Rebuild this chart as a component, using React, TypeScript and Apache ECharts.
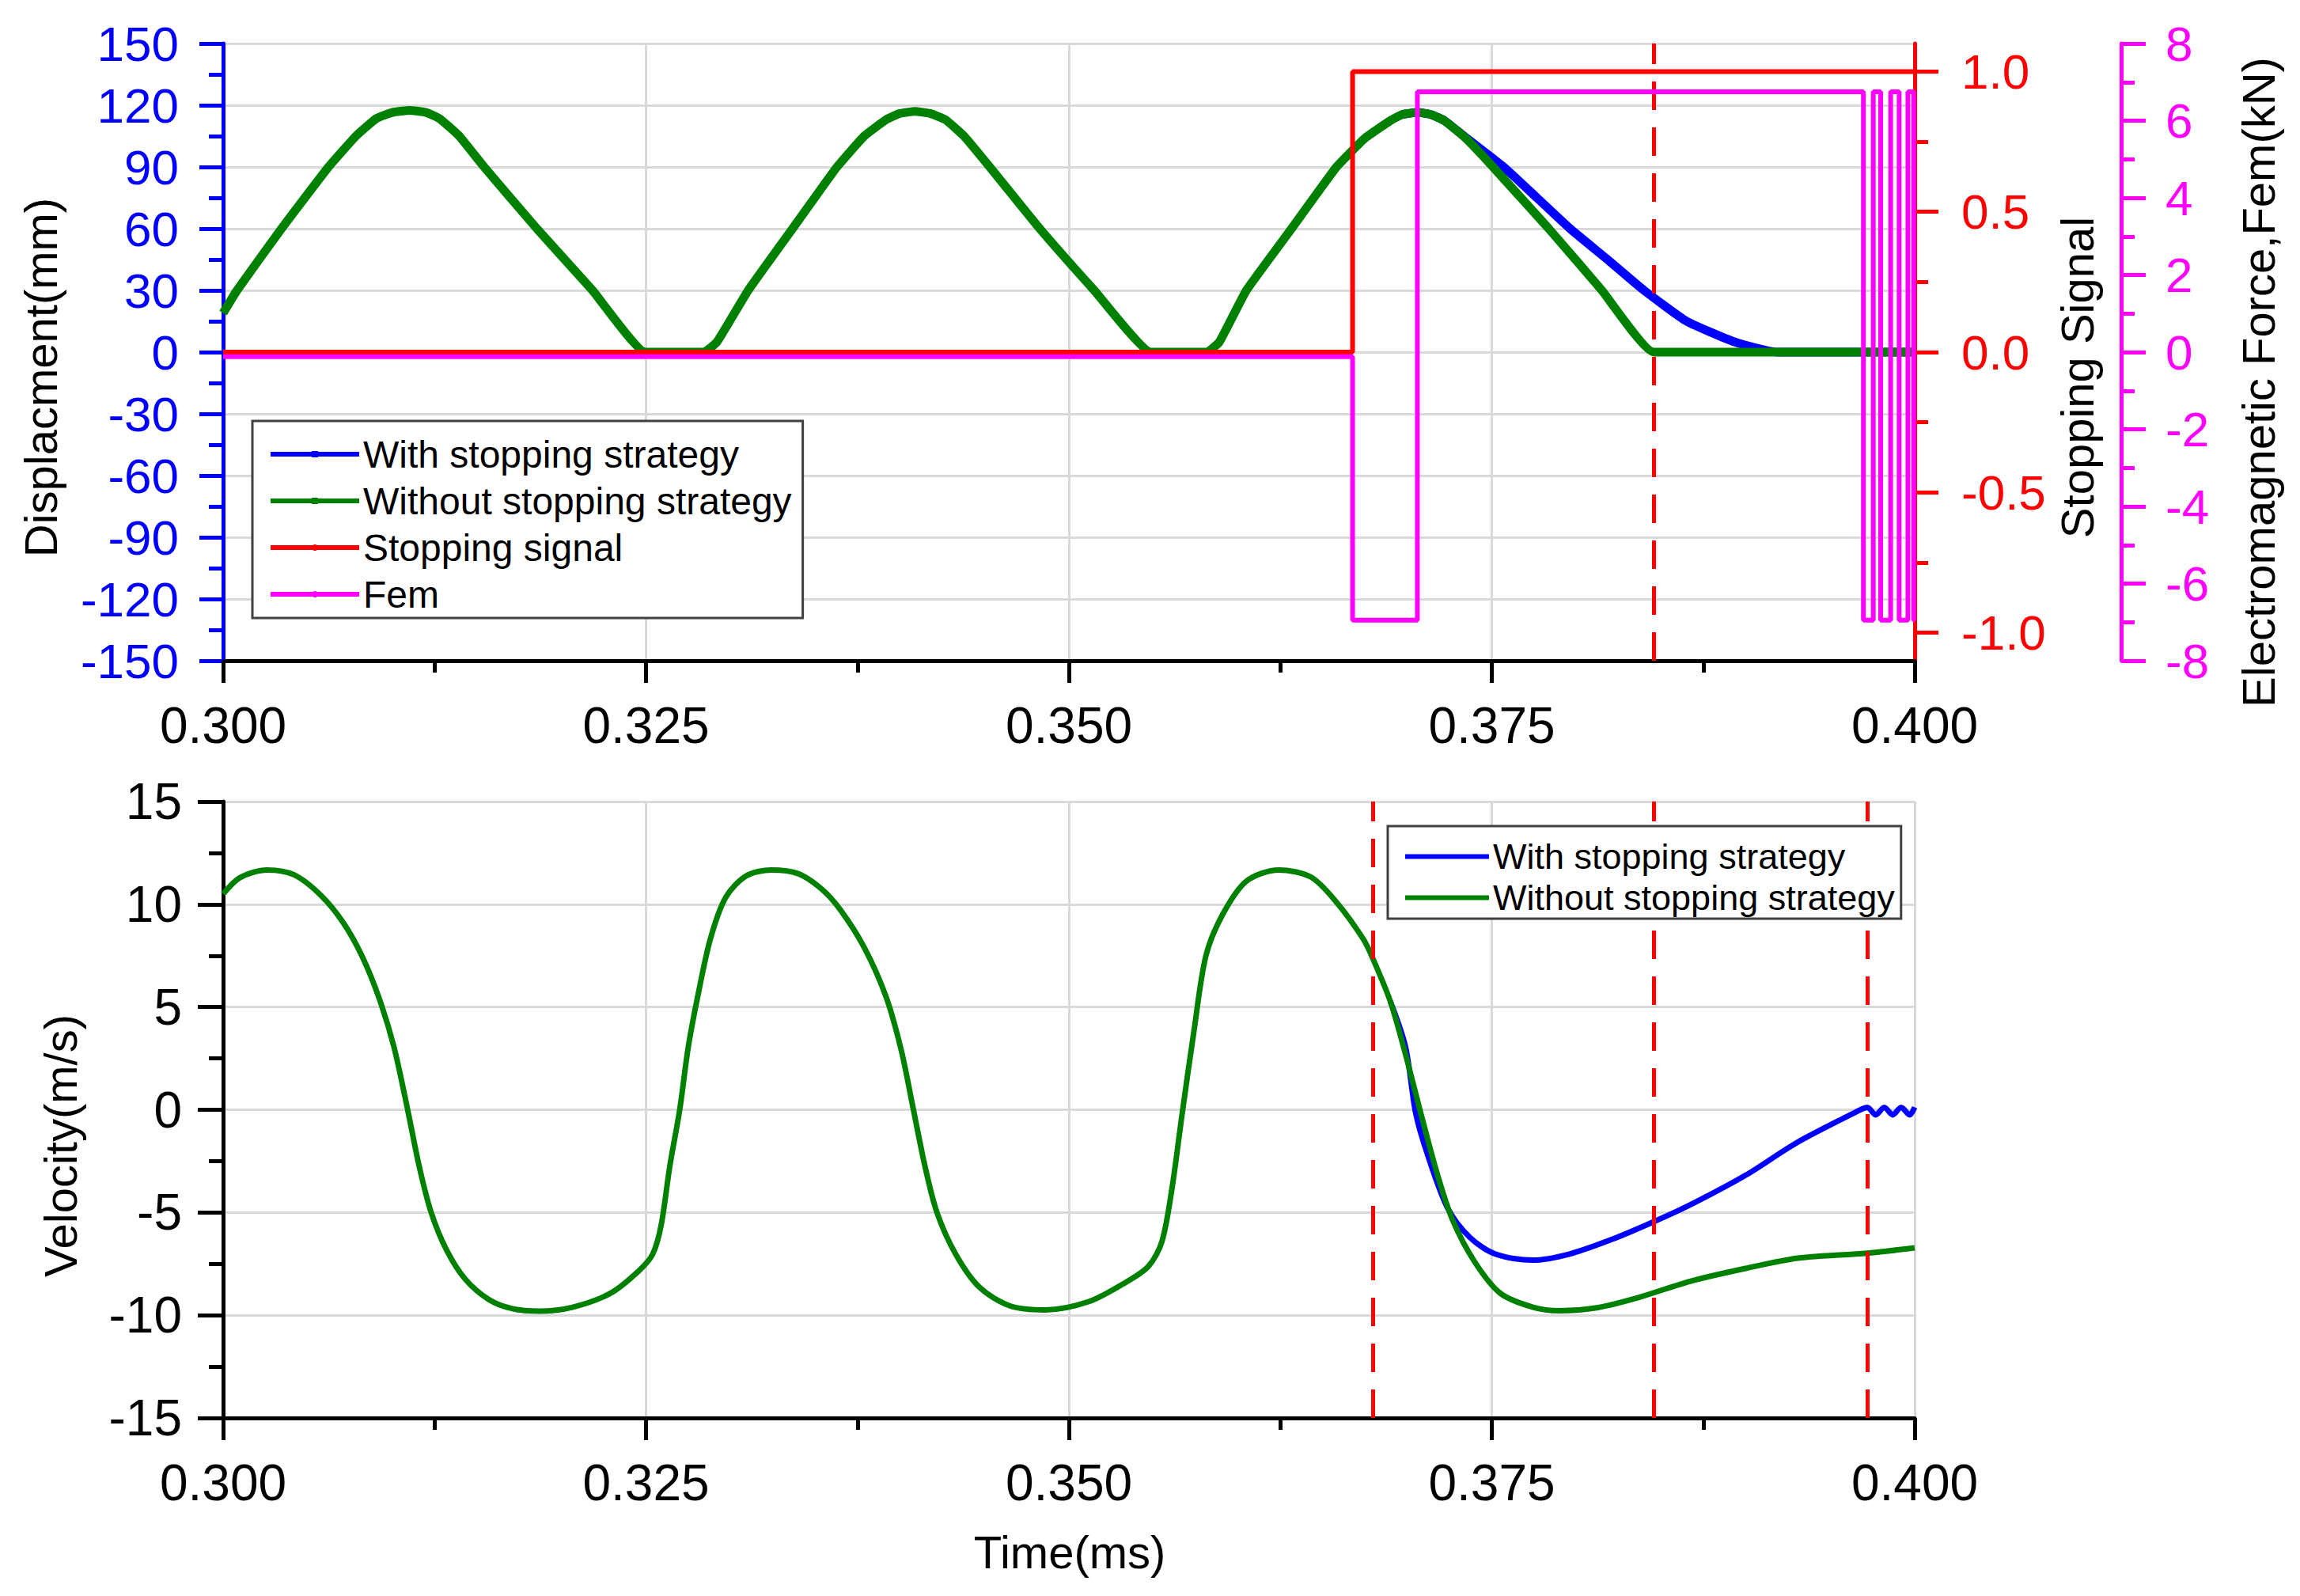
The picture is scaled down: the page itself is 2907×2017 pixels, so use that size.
import React, { useEffect, useRef } from "react";
import * as echarts from "echarts";

// ---------- data ----------
// time in ms, displacement in mm
const dispWithoutStrategy: [number, number][] = [
  [0.3, 19], [0.30082, 30], [0.30345, 60], [0.30623, 90], [0.30785, 105], [0.30905, 113.5],
  [0.31, 116.5], [0.311, 117.5], [0.312, 116.5], [0.3128, 113.5], [0.31396, 105], [0.31543, 90],
  [0.31855, 60], [0.32184, 30], [0.32496, 0], [0.32842, 0], [0.3292, 5], [0.33104, 30], [0.33366, 60],
  [0.33629, 90], [0.3379, 105], [0.3392, 113], [0.34, 116], [0.3409, 117], [0.3418, 116],
  [0.3427, 113], [0.3438, 105], [0.34532, 90], [0.34828, 60], [0.3515, 30], [0.35485, 0],
  [0.35816, 0], [0.3589, 5], [0.36049, 30], [0.36316, 60], [0.36582, 90], [0.3675, 104], [0.369, 112.5],
  [0.3697, 115.5], [0.3706, 116.5], [0.3714, 115.5], [0.3722, 112.5], [0.37345, 104],
  [0.37507, 90], [0.37837, 60], [0.38151, 30], [0.38457, 0], [0.4, 0],
];
const dispWithStrategy: [number, number][] = [
  [0.3697, 115.5], [0.3706, 116.5], [0.3714, 115.5], [0.3722, 112.5], [0.37336, 105],
  [0.3757, 90], [0.37767, 75], [0.37963, 60], [0.38184, 45], [0.384, 30], [0.38652, 15],
  [0.38934, 5], [0.39185, 0], [0.4, 0],
];
const stoppingSignal: [number, number][] = [
  [0.3, 0], [0.36677, 0], [0.36677, 1], [0.4, 1],
];
// electromagnetic force in kN
const femForce: [number, number][] = [
  [0.3, -0.12], [0.36677, -0.12], [0.36677, -6.95], [0.3706, -6.95], [0.3706, 6.75],
  [0.39697, 6.75], [0.39697, -6.95], [0.39755, -6.95], [0.39755, 6.75], [0.39799, 6.75],
  [0.39799, -6.95], [0.39858, -6.95], [0.39858, 6.75], [0.39908, 6.75], [0.39908, -6.95],
  [0.3996, -6.95], [0.3996, 6.75], [0.39994, 6.75], [0.39994, -6.95], [0.4, -6.95],
];
// velocity in m/s
const velWithoutStrategy: [number, number][] = [
  [0.3, 10.5], [0.301, 11.3], [0.3026, 11.67], [0.3042, 11.43], [0.3058, 10.42], [0.3071, 9.11],
  [0.3082, 7.5], [0.3092, 5.48], [0.3101, 3.06], [0.3109, 0.04], [0.3116, -2.78], [0.3123, -5.0],
  [0.3132, -6.81], [0.3143, -8.23], [0.3157, -9.23], [0.3171, -9.68], [0.3187, -9.8],
  [0.3207, -9.6], [0.3229, -8.93], [0.3246, -7.82], [0.3254, -7.02], [0.3259, -5.6],
  [0.3264, -2.78], [0.327, 0.04], [0.3275, 3.06], [0.3281, 5.69], [0.3288, 8.3], [0.3297, 10.32],
  [0.3309, 11.37], [0.3324, 11.67], [0.334, 11.49], [0.3354, 10.73], [0.3365, 9.72], [0.3379, 7.9],
  [0.3392, 5.48], [0.3401, 2.86], [0.3408, 0.04], [0.3415, -2.78], [0.3422, -5.0], [0.3433, -7.02],
  [0.3447, -8.63], [0.3465, -9.54], [0.3486, -9.74], [0.3512, -9.33], [0.3533, -8.43],
  [0.3547, -7.62], [0.3555, -6.41], [0.3561, -3.79], [0.3567, -0.16], [0.3574, 3.87],
  [0.3581, 7.5], [0.3591, 9.52], [0.3605, 11.13], [0.3624, 11.67], [0.3643, 11.33],
  [0.3658, 10.12], [0.3674, 8.31], [0.368, 7.3], [0.369, 5.28], [0.3699, 2.7], [0.3708, -0.16],
  [0.3718, -3.19], [0.3727, -5.4], [0.374, -7.42], [0.3755, -8.93], [0.3774, -9.6],
  [0.379, -9.78], [0.3812, -9.64], [0.3837, -9.13], [0.3868, -8.33], [0.39, -7.72],
  [0.3931, -7.22], [0.3972, -6.98], [0.4, -6.72],
];
const velWithStrategy: [number, number][] = [
  [0.369, 5.28], [0.3699, 3.06], [0.3705, -0.16], [0.3712, -2.18], [0.3724, -4.8],
  [0.3737, -6.21], [0.3752, -7.02], [0.3774, -7.32], [0.3796, -7.02], [0.3821, -6.31],
  [0.3846, -5.44], [0.3868, -4.6], [0.39, -3.19], [0.3931, -1.57], [0.3969, 0.04],
  [0.3972, 0.12], [0.3977, -0.25], [0.3982, 0.12], [0.3987, -0.25], [0.3992, 0.12],
  [0.3997, -0.25], [0.4, 0.12],
];
const dispMarkerTimes = [0.38457];
const velMarkerTimes = [0.36796, 0.38457, 0.3972];
const stopSignalTicks = [-1, -0.5, 0, 0.5, 1];
const stopSignalMinorTicks = [-0.75, -0.25, 0.25, 0.75];

const NAME_WITH = "With stopping strategy";
const NAME_WITHOUT = "Without stopping strategy";
const NAME_STOP = "Stopping signal";
const NAME_FEM = "Fem";

// ---------- styling ----------
const FONT = "'Liberation Sans', Arial, Helvetica, sans-serif";
const GRID_COLOR = "#d9d9d9";
const BLUE = "#0000ff";
const GREEN = "#008000";
const RED = "#ff0000";
const MAGENTA = "#ff00ff";

export default function App() {
  const ref = useRef<HTMLDivElement>(null);

  useEffect(() => {
    const chart = echarts.init(ref.current as HTMLDivElement, null, { renderer: "svg" });

    const xAxisFor = (gridIndex: number) => ({
      type: "value",
      gridIndex,
      min: 0.3,
      max: 0.4,
      interval: 0.025,
      axisLine: { show: true, onZero: false, lineStyle: { color: "#000", width: 5 } },
      axisTick: { show: true, inside: false, length: 28, lineStyle: { color: "#000", width: 5 } },
      minorTick: { show: true, splitNumber: 2, length: 15, lineStyle: { color: "#000", width: 5 } },
      axisLabel: {
        margin: 50,
        color: "#000",
        fontSize: 64,
        fontFamily: FONT,
        formatter: (v: number) => v.toFixed(3),
      },
      splitLine: { show: true, lineStyle: { color: GRID_COLOR, width: 3 } },
    });

    const dashed = (times: number[]) => ({
      silent: true,
      precision: 6,
      symbol: ["none", "none"],
      label: { show: false },
      lineStyle: { color: RED, width: 5, type: [36, 22] },
      data: times.map((t) => ({ xAxis: t })),
    });

    const option: any = {
      animation: false,
      backgroundColor: "#fff",
      grid: [
        { left: 282, top: 55, width: 2138, height: 780 },
        { left: 282, top: 1013, width: 2138, height: 779 },
      ],
      xAxis: [xAxisFor(0), xAxisFor(1)],
      yAxis: [
        {
          type: "value",
          gridIndex: 0,
          position: "left",
          min: -150,
          max: 150,
          interval: 30,
          axisLine: { show: true, onZero: false, lineStyle: { color: BLUE, width: 5 } },
          axisTick: { show: true, length: 30, lineStyle: { color: BLUE, width: 5 } },
          minorTick: { show: true, splitNumber: 2, length: 18, lineStyle: { color: BLUE, width: 5 } },
          axisLabel: { margin: 56, color: BLUE, fontSize: 62, fontFamily: FONT },
          splitLine: { show: true, lineStyle: { color: GRID_COLOR, width: 3 } },
        },
        {
          type: "value",
          gridIndex: 0,
          position: "right",
          offset: 0,
          min: -1.1,
          max: 1.1,
          axisLine: { show: true, onZero: false, lineStyle: { color: RED, width: 5 } },
          axisTick: { show: true, length: 30, customValues: stopSignalTicks, lineStyle: { color: RED, width: 5 } },
          axisLabel: {
            margin: 59,
            color: RED,
            fontSize: 62,
            fontFamily: FONT,
            customValues: stopSignalTicks,
            formatter: (v: number) => v.toFixed(1),
          },
          splitLine: { show: false },
        },
        {
          type: "value",
          gridIndex: 0,
          position: "right",
          offset: 0,
          min: -1.1,
          max: 1.1,
          axisLine: { show: false },
          axisTick: { show: true, length: 17, customValues: stopSignalMinorTicks, lineStyle: { color: RED, width: 5 } },
          axisLabel: { show: false },
          splitLine: { show: false },
        },
        {
          type: "value",
          gridIndex: 0,
          position: "right",
          offset: 261,
          min: -8,
          max: 8,
          interval: 2,
          axisLine: { show: true, onZero: false, lineStyle: { color: MAGENTA, width: 5 } },
          axisTick: { show: true, length: 31, lineStyle: { color: MAGENTA, width: 5 } },
          minorTick: { show: true, splitNumber: 2, length: 17, lineStyle: { color: MAGENTA, width: 5 } },
          axisLabel: { margin: 56, color: MAGENTA, fontSize: 62, fontFamily: FONT },
          splitLine: { show: false },
        },
        {
          type: "value",
          gridIndex: 1,
          position: "left",
          min: -15,
          max: 15,
          interval: 5,
          axisLine: { show: true, onZero: false, lineStyle: { color: "#000", width: 5 } },
          axisTick: { show: true, length: 32, lineStyle: { color: "#000", width: 5 } },
          minorTick: { show: true, splitNumber: 2, length: 18, lineStyle: { color: "#000", width: 5 } },
          axisLabel: { margin: 52, color: "#000", fontSize: 64, fontFamily: FONT },
          splitLine: { show: true, lineStyle: { color: GRID_COLOR, width: 3 } },
        },
      ],
      legend: [
        {
          orient: "vertical",
          z: 20,
          left: 319,
          top: 532,
          padding: [18, 14, 6, 20],
          itemGap: 11,
          itemWidth: 112,
          itemHeight: 10,
          backgroundColor: "#fff",
          borderColor: "#404040",
          borderWidth: 3,
          selectedMode: false,
          textStyle: { fontSize: 48, fontFamily: FONT, color: "#000" },
          lineStyle: { width: 6 },
          data: [NAME_WITH, NAME_WITHOUT, NAME_STOP, NAME_FEM],
        },
        {
          orient: "vertical",
          z: 20,
          left: 1754,
          top: 1044,
          padding: [16, 8, 4, 22],
          itemGap: 7,
          itemWidth: 106,
          itemHeight: 6,
          backgroundColor: "#fff",
          borderColor: "#404040",
          borderWidth: 3,
          selectedMode: false,
          textStyle: { fontSize: 45, fontFamily: FONT, color: "#000" },
          data: [
            { name: NAME_WITH, icon: "rect" },
            { name: NAME_WITHOUT, icon: "rect" },
          ],
        },
      ],
      graphic: [
        {
          type: "text", x: 51, y: 477, rotation: Math.PI / 2,
          style: { text: "Displacment(mm)", font: `58px ${FONT}`, fill: "#000", textAlign: "center", textVerticalAlign: "middle" },
        },
        {
          type: "text", x: 2625, y: 477, rotation: Math.PI / 2,
          style: { text: "Stopping Signal", font: `58px ${FONT}`, fill: "#000", textAlign: "center", textVerticalAlign: "middle" },
        },
        {
          type: "text", x: 2854, y: 483, rotation: Math.PI / 2,
          style: { text: "Electromagnetic Force,Fem(kN)", font: `58px ${FONT}`, fill: "#000", textAlign: "center", textVerticalAlign: "middle" },
        },
        {
          type: "text", x: 76, y: 1448, rotation: Math.PI / 2,
          style: { text: "Velocity(m/s)", font: `58px ${FONT}`, fill: "#000", textAlign: "center", textVerticalAlign: "middle" },
        },
        {
          type: "text", x: 1352, y: 1961,
          style: { text: "Time(ms)", font: `58px ${FONT}`, fill: "#000", textAlign: "center", textVerticalAlign: "middle" },
        },
      ],
      series: [
        {
          name: NAME_WITH, type: "line", xAxisIndex: 0, yAxisIndex: 0, data: dispWithStrategy,
          showSymbol: false, symbol: "rect", symbolSize: 8, smooth: 0.15,
          lineStyle: { color: BLUE, width: 11 }, itemStyle: { color: BLUE }, z: 2,
        },
        {
          name: NAME_WITHOUT, type: "line", xAxisIndex: 0, yAxisIndex: 0, data: dispWithoutStrategy,
          showSymbol: false, symbol: "rect", symbolSize: 8, smooth: 0.12,
          lineStyle: { color: GREEN, width: 11 }, itemStyle: { color: GREEN }, z: 3,
        },
        {
          name: NAME_STOP, type: "line", xAxisIndex: 0, yAxisIndex: 1, data: stoppingSignal,
          symbol: "none", lineStyle: { color: RED, width: 6 }, itemStyle: { color: RED }, z: 4,
          markLine: dashed(dispMarkerTimes),
        },
        {
          name: NAME_FEM, type: "line", xAxisIndex: 0, yAxisIndex: 3, data: femForce,
          symbol: "none", lineStyle: { color: MAGENTA, width: 6 }, itemStyle: { color: MAGENTA }, z: 5,
        },
        {
          name: NAME_WITH, type: "line", xAxisIndex: 1, yAxisIndex: 4, data: velWithStrategy,
          showSymbol: false, symbol: "rect", symbolSize: 8, smooth: 0.3,
          lineStyle: { color: BLUE, width: 7 }, itemStyle: { color: BLUE }, z: 2,
        },
        {
          name: NAME_WITHOUT, type: "line", xAxisIndex: 1, yAxisIndex: 4, data: velWithoutStrategy,
          showSymbol: false, symbol: "rect", symbolSize: 8, smooth: 0.3,
          lineStyle: { color: GREEN, width: 7 }, itemStyle: { color: GREEN }, z: 3,
          markLine: dashed(velMarkerTimes),
        },
      ],
    };

    chart.setOption(option);
    return () => {
      chart.dispose();
    };
  }, []);

  return (
    <div
      ref={ref}
      style={{ position: "absolute", left: 0, top: 0, width: 2907, height: 2017, background: "#fff" }}
    />
  );
}
